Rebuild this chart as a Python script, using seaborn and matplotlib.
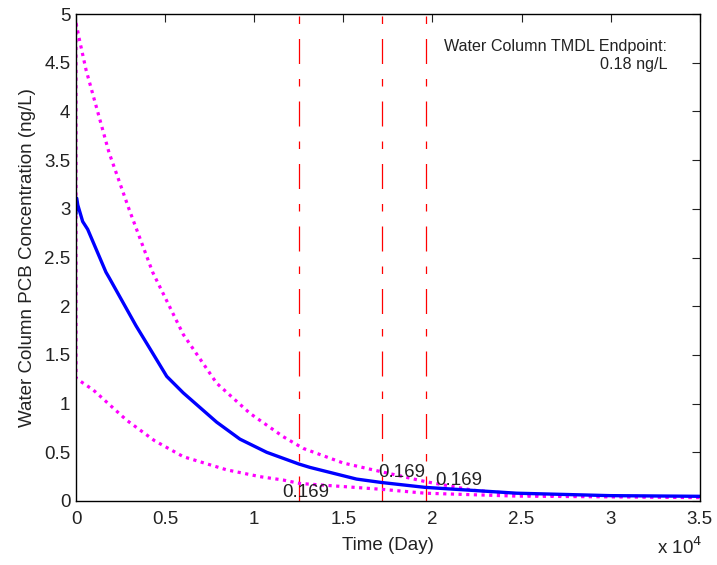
import matplotlib
matplotlib.use("Agg")
import matplotlib.pyplot as plt
import seaborn as sns
import pandas as pd

sns.set_style("white")
plt.rcParams['font.family'] = ['Liberation Sans', 'DejaVu Sans']

# Data (time in days, concentration in ng/L)
blue_t = [0, 0, 40, 100, 375, 655, 1680, 1870, 3365, 4130, 5090, 6020, 7890, 9200,
          10700, 12500, 13125, 15740, 17140, 19580, 24720, 29950, 35000]
blue_v = [2.95, 3.11, 3.11, 3.04, 2.87, 2.79, 2.35, 2.29, 1.80, 1.57, 1.28, 1.11, 0.81, 0.635,
          0.50, 0.38, 0.345, 0.225, 0.19, 0.14, 0.08, 0.055, 0.048]

upper_t = [0, 190, 560, 1850, 2990, 4300, 6020, 7890, 9760, 11630, 12750, 14990,
           17140, 19580, 22290, 25630, 30000, 35000]
upper_v = [4.91, 4.74, 4.43, 3.58, 2.99, 2.35, 1.71, 1.21, 0.90, 0.66, 0.54, 0.39,
           0.30, 0.20, 0.11, 0.06, 0.05, 0.04]

lower_t = [0, 0, 970, 2840, 4400, 6020, 8450, 10320, 11630, 12560, 17140, 19580, 24720, 35000]
lower_v = [4.9, 1.26, 1.14, 0.83, 0.62, 0.455, 0.32, 0.25, 0.215, 0.18, 0.12, 0.08, 0.05, 0.035]

vline_t = [12510, 17180, 19620]

label_t = [11555, 16940, 20140]
label_v = [0.09, 0.29, 0.21]
label_txt = ["0.169", "0.169", "0.169"]

x_ticks = [0, 5000, 10000, 15000, 20000, 25000, 30000, 35000]
x_ticklabels = ["0", "0.5", "1", "1.5", "2", "2.5", "3", "3.5"]
y_ticks = [0, 0.5, 1, 1.5, 2, 2.5, 3, 3.5, 4, 4.5, 5]
y_ticklabels = ["0", "0.5", "1", "1.5", "2", "2.5", "3", "3.5", "4", "4.5", "5"]

fig = plt.figure(figsize=(7.17, 5.65), dpi=100)
ax = fig.add_axes([0.106, 0.1133, 0.870, 0.8617])

for t in vline_t:
    ax.axvline(t, color='#FF0000', lw=0.9, ls=(0, (20, 12, 6, 12)))

df_b = pd.DataFrame({'t': blue_t, 'v': blue_v})
df_u = pd.DataFrame({'t': upper_t, 'v': upper_v})
df_l = pd.DataFrame({'t': lower_t, 'v': lower_v})

sns.lineplot(data=df_u, x='t', y='v', ax=ax, sort=False, estimator=None,
             color='#FF00FF', lw=2.3, ls=(0, (1, 1.4)))
sns.lineplot(data=df_l, x='t', y='v', ax=ax, sort=False, estimator=None,
             color='#FF00FF', lw=2.3, ls=(0, (1, 1.4)))
sns.lineplot(data=df_b, x='t', y='v', ax=ax, sort=False, estimator=None,
             color='#0000FF', lw=2.4)

for t, v, s in zip(label_t, label_v, label_txt):
    ax.text(t, v, s, fontsize=13.5, ha='left', va='center', color='#222222')

ax.text(0.948, 0.948, "Water Column TMDL Endpoint:\n0.18 ng/L", transform=ax.transAxes,
        ha='right', va='top', fontsize=11.6, multialignment='right', color='#222222',
        linespacing=1.25)

ax.set_xlim(0, 35000)
ax.set_ylim(0, 5)
ax.set_xticks(x_ticks)
ax.set_xticklabels(x_ticklabels)
ax.set_yticks(y_ticks)
ax.set_yticklabels(y_ticklabels)
ax.tick_params(direction='in', length=6, width=0.8, top=True, right=True,
               labelsize=13.5, colors='#222222')
ax.tick_params(axis='x', pad=7)
ax.tick_params(axis='y', pad=4)
for sp in ax.spines.values():
    sp.set_visible(True)
    sp.set_color('black')
    sp.set_linewidth(1.0)
ax.set_xlabel("Time (Day)", fontsize=13.5, color='#222222', labelpad=7)
ax.set_ylabel("Water Column PCB Concentration (ng/L)", fontsize=13.5, color='#222222', labelpad=6)
ax.grid(False)

fig.text(0.917, 0.013, r"x 10$^{4}$", fontsize=13.5, ha='left', va='bottom', color='#222222')

fig.savefig("out.png", dpi=100)
